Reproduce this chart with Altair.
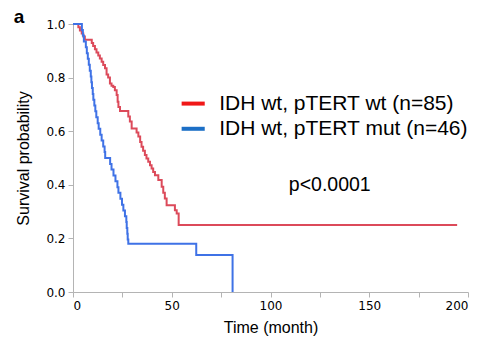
import altair as alt
import pandas as pd

# Kaplan-Meier step points (time in months, survival probability)
wt_time = [0, 2.7, 3.5, 4.4, 5.2, 6.0, 9.5, 10.2, 11.1, 11.9, 12.8, 13.6, 14.5, 15.3, 16.2,
           17.0, 17.8, 18.7, 19.5, 20.4, 21.2, 22.1, 22.6, 23.0, 23.8, 28.0, 28.8, 29.7,
           32.2, 33.1, 34.0, 34.7, 35.5, 36.4, 37.2, 38.1, 39.0, 39.8, 40.6, 41.5, 43.2,
           44.9, 45.7, 46.5, 47.4, 51.6, 52.5, 53.5, 194.5]
wt_surv = [1.0, 0.988, 0.976, 0.965, 0.953, 0.941, 0.929, 0.918, 0.906, 0.894, 0.882, 0.871,
           0.859, 0.847, 0.835, 0.812, 0.800, 0.778, 0.770, 0.765, 0.753, 0.735, 0.710,
           0.690, 0.675, 0.655, 0.636, 0.610, 0.595, 0.580, 0.560, 0.542, 0.527, 0.511,
           0.498, 0.486, 0.473, 0.461, 0.448, 0.436, 0.418, 0.393, 0.370, 0.349, 0.324,
           0.305, 0.293, 0.250, 0.250]

mut_time = [0, 4.5, 5.0, 5.5, 6.5, 7.0, 7.5, 8.0, 8.5, 9.0, 9.3, 9.6, 10.0, 10.3, 10.8,
            11.3, 11.8, 12.5, 13.0, 13.8, 14.5, 15.3, 16.0, 16.3, 18.8, 19.5, 20.5, 21.5,
            22.5, 23.0, 24.0, 24.8, 25.5, 26.3, 27.0, 27.2, 27.5, 27.7, 28.0, 62.4, 80.8]
mut_surv = [1.0, 0.978, 0.957, 0.935, 0.913, 0.891, 0.870, 0.848, 0.826, 0.804, 0.783, 0.761,
            0.739, 0.717, 0.696, 0.674, 0.652, 0.630, 0.609, 0.587, 0.565, 0.543, 0.522,
            0.500, 0.478, 0.457, 0.435, 0.413, 0.391, 0.370, 0.348, 0.326, 0.304, 0.283,
            0.261, 0.239, 0.217, 0.196, 0.180, 0.138, 0.0]

groups = ["IDH wt, pTERT wt (n=85)", "IDH wt, pTERT mut (n=46)"]
line_colors = ["#dc4a5a", "#3f72e6"]
legend_colors = ["#f01818", "#1c6fc6"]
x_ticks = [0, 25, 50, 75, 100, 125, 150, 175, 200]
y_ticks = [0.0, 0.1, 0.2, 0.3, 0.4, 0.5, 0.6, 0.7, 0.8, 0.9, 1.0]
p_text = "p<0.0001"
panel_label = "a"

rows = []
for t, s in zip(wt_time, wt_surv):
    rows.append({"time": t, "surv": s, "group": groups[0]})
for t, s in zip(mut_time, mut_surv):
    rows.append({"time": t, "surv": s, "group": groups[1]})
df = pd.DataFrame(rows)

axis_common = dict(
    domainColor="#b4b4b4", tickColor="#b4b4b4", tickSize=5, grid=False,
    labelFont="DejaVu Sans", labelFontSize=12, labelColor="#000000",
    titleFont="Liberation Sans", titleFontSize=16, titleColor="#000000",
    titleFontWeight="normal",
)

xscale = alt.Scale(domain=[0, 200], nice=False)
yscale = alt.Scale(domain=[0, 1], nice=False)

lines = alt.Chart(df).mark_line(interpolate="step-after", strokeWidth=2).encode(
    x=alt.X("time:Q", scale=xscale,
            axis=alt.Axis(title="Time (month)", values=x_ticks,
                          labelExpr="datum.value % 50 == 0 ? datum.label : ''",
                          labelPadding=3, titlePadding=8, **axis_common)),
    y=alt.Y("surv:Q", scale=yscale,
            axis=alt.Axis(title="Survival probability", values=y_ticks, format=".1f",
                          labelExpr="round(datum.value*10) % 2 == 0 ? datum.label : ''",
                          labelPadding=3, titlePadding=14, **axis_common)),
    color=alt.Color("group:N", scale=alt.Scale(domain=groups, range=line_colors), legend=None),
)

# legend placed in data coordinates
leg_df = pd.DataFrame({
    "label": groups, "color": legend_colors,
    "x0": [55.0, 55.0], "x1": [66.7, 66.7], "xt": [74.0, 74.0], "yy": [0.703, 0.609],
})
leg_lines = alt.Chart(leg_df).mark_rule(strokeWidth=4).encode(
    x=alt.X("x0:Q", scale=xscale), x2="x1:Q",
    y=alt.Y("yy:Q", scale=yscale),
    color=alt.Color("color:N", scale=None),
)
leg_text = alt.Chart(leg_df).mark_text(
    align="left", baseline="middle", font="Liberation Sans", fontSize=21, color="#000000"
).encode(
    x=alt.X("xt:Q", scale=xscale),
    y=alt.Y("yy:Q", scale=yscale),
    text="label:N",
)

ann_df = pd.DataFrame({"t": [130], "s": [0.40], "txt": [p_text]})
p_mark = alt.Chart(ann_df).mark_text(
    font="Liberation Sans", fontSize=19.5, color="#000000", align="center", baseline="middle"
).encode(x=alt.X("t:Q", scale=xscale), y=alt.Y("s:Q", scale=yscale), text="txt:N")

a_df = pd.DataFrame({"txt": [panel_label]})
a_mark = alt.Chart(a_df).mark_text(
    font="Liberation Sans", fontSize=19, fontWeight="bold", color="#000000",
    align="center", baseline="middle"
).encode(x=alt.value(-54), y=alt.value(-7), text="txt:N")

chart = alt.layer(lines, leg_lines, leg_text, p_mark, a_mark).resolve_scale(
    color="independent"
).properties(
    width=395, height=268,
    autosize=alt.AutoSizeParams(type="none"),
    padding={"left": 73, "top": 24, "right": 22, "bottom": 61},
    background="#ffffff",
).configure_view(stroke=None)

chart.save("out.html", embed_options={"renderer": "svg", "actions": False})
